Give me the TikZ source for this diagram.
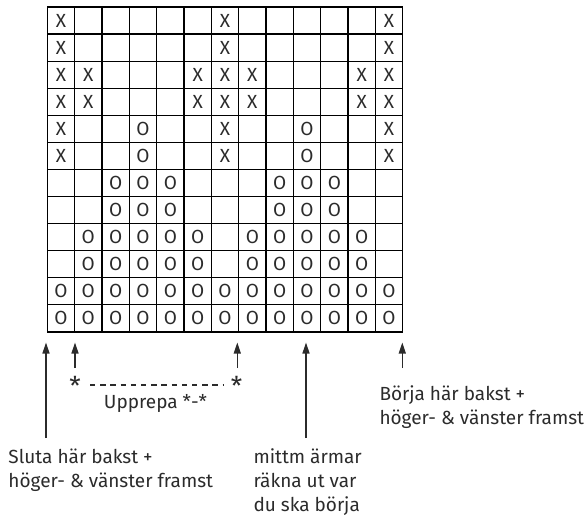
\documentclass[tikz,border=0pt]{standalone}
\usepackage{fontspec}
\setmainfont{Fira Sans}
\usetikzlibrary{arrows.meta}
\definecolor{ink}{HTML}{2B2B2B}
\tikzset{
  pin/.style={-{Triangle[length=11pt,width=7pt]}, line width=1.3pt, ink},
  stitch/.style={font=\fontsize{19}{19}\selectfont, inner sep=0pt, text=ink},
  note/.style={anchor=base west, align=left, inner sep=0pt, text=ink,
    font=\fontsize{19}{24}\selectfont}
}

\begin{document}
\begin{tikzpicture}[x=1pt, y=-1pt]
  \useasboundingbox (0,0) rectangle (586,519);
  % chart, 13 stitches x 12 rows
  \begin{scope}[shift={(47.3pt,-7pt)}, x=27.34pt, y=-27.08pt]
    \foreach \c in {0,...,13}{\draw[line width=1.2pt] (\c,0) -- (\c,12);}
    \foreach \r in {0,...,12}{\draw[line width=1.2pt] (0,\r) -- (13,\r);}
    % X stitches
    \foreach \r/\cols in {1/{1,7,13}, 2/{1,7,13}, 3/{1,2,6,7,8,12,13},
        4/{1,2,6,7,8,12,13}, 5/{1,7,13}, 6/{1,7,13}}
      {\foreach \c in \cols {\node[stitch] (x\r-\c) at (\c-0.5,\r-0.5) {X};}}
    % O stitches
    \foreach \r/\cols in {5/{4,10}, 6/{4,10}, 7/{3,4,5,9,10,11}, 8/{3,4,5,9,10,11},
        9/{2,3,4,5,6,8,9,10,11,12}, 10/{2,3,4,5,6,8,9,10,11,12},
        11/{1,...,13}, 12/{1,...,13}}
      {\foreach \c in \cols {\node[stitch] (o\r-\c) at (\c-0.5,\r-0.5) {O};}}
  \end{scope}
  % repeat marks
  \node[note, anchor=base, font=\fontsize{26}{26}\selectfont] (starL) at (75,395) {*};
  \node[note, anchor=base, font=\fontsize{26}{26}\selectfont] (starR) at (236.7,395) {*};
  \draw[ink, line width=1.2pt, dash pattern=on 5.3pt off 4.9pt]
    (90,385) coordinate (dashL) -- (223.5,385) coordinate (dashR);
  \node[note, anchor=base] (upprepa) at (155.5,408.3) {Upprepa *-*};
  % arrows
  \coordinate (tailA) at (46,438);    \coordinate (tipA) at (46,342.5);
  \coordinate (tailB) at (75,368);    \coordinate (tipB) at (75,342.5);
  \coordinate (tailC) at (237.3,368); \coordinate (tipC) at (237.3,342.5);
  \coordinate (tailD) at (306,438);   \coordinate (tipD) at (306,342.5);
  \coordinate (tailE) at (402.3,368); \coordinate (tipE) at (402.3,342.5);
  \foreach \a in {A,B,C,D,E}{\draw[pin] (tail\a) -- (tip\a);}
  % notes (base = last line)
  \node[note] (borja) at (379.3,424) {Börja här bakst +\\höger- \& vänster framst};
  \node[note] (sluta) at (8.3,487) {Sluta här bakst +\\höger- \& vänster framst};
  \node[note] (mittm) at (253.3,511.5) {mittm ärmar\\räkna ut var\\du ska börja};
\end{tikzpicture}
\end{document}
